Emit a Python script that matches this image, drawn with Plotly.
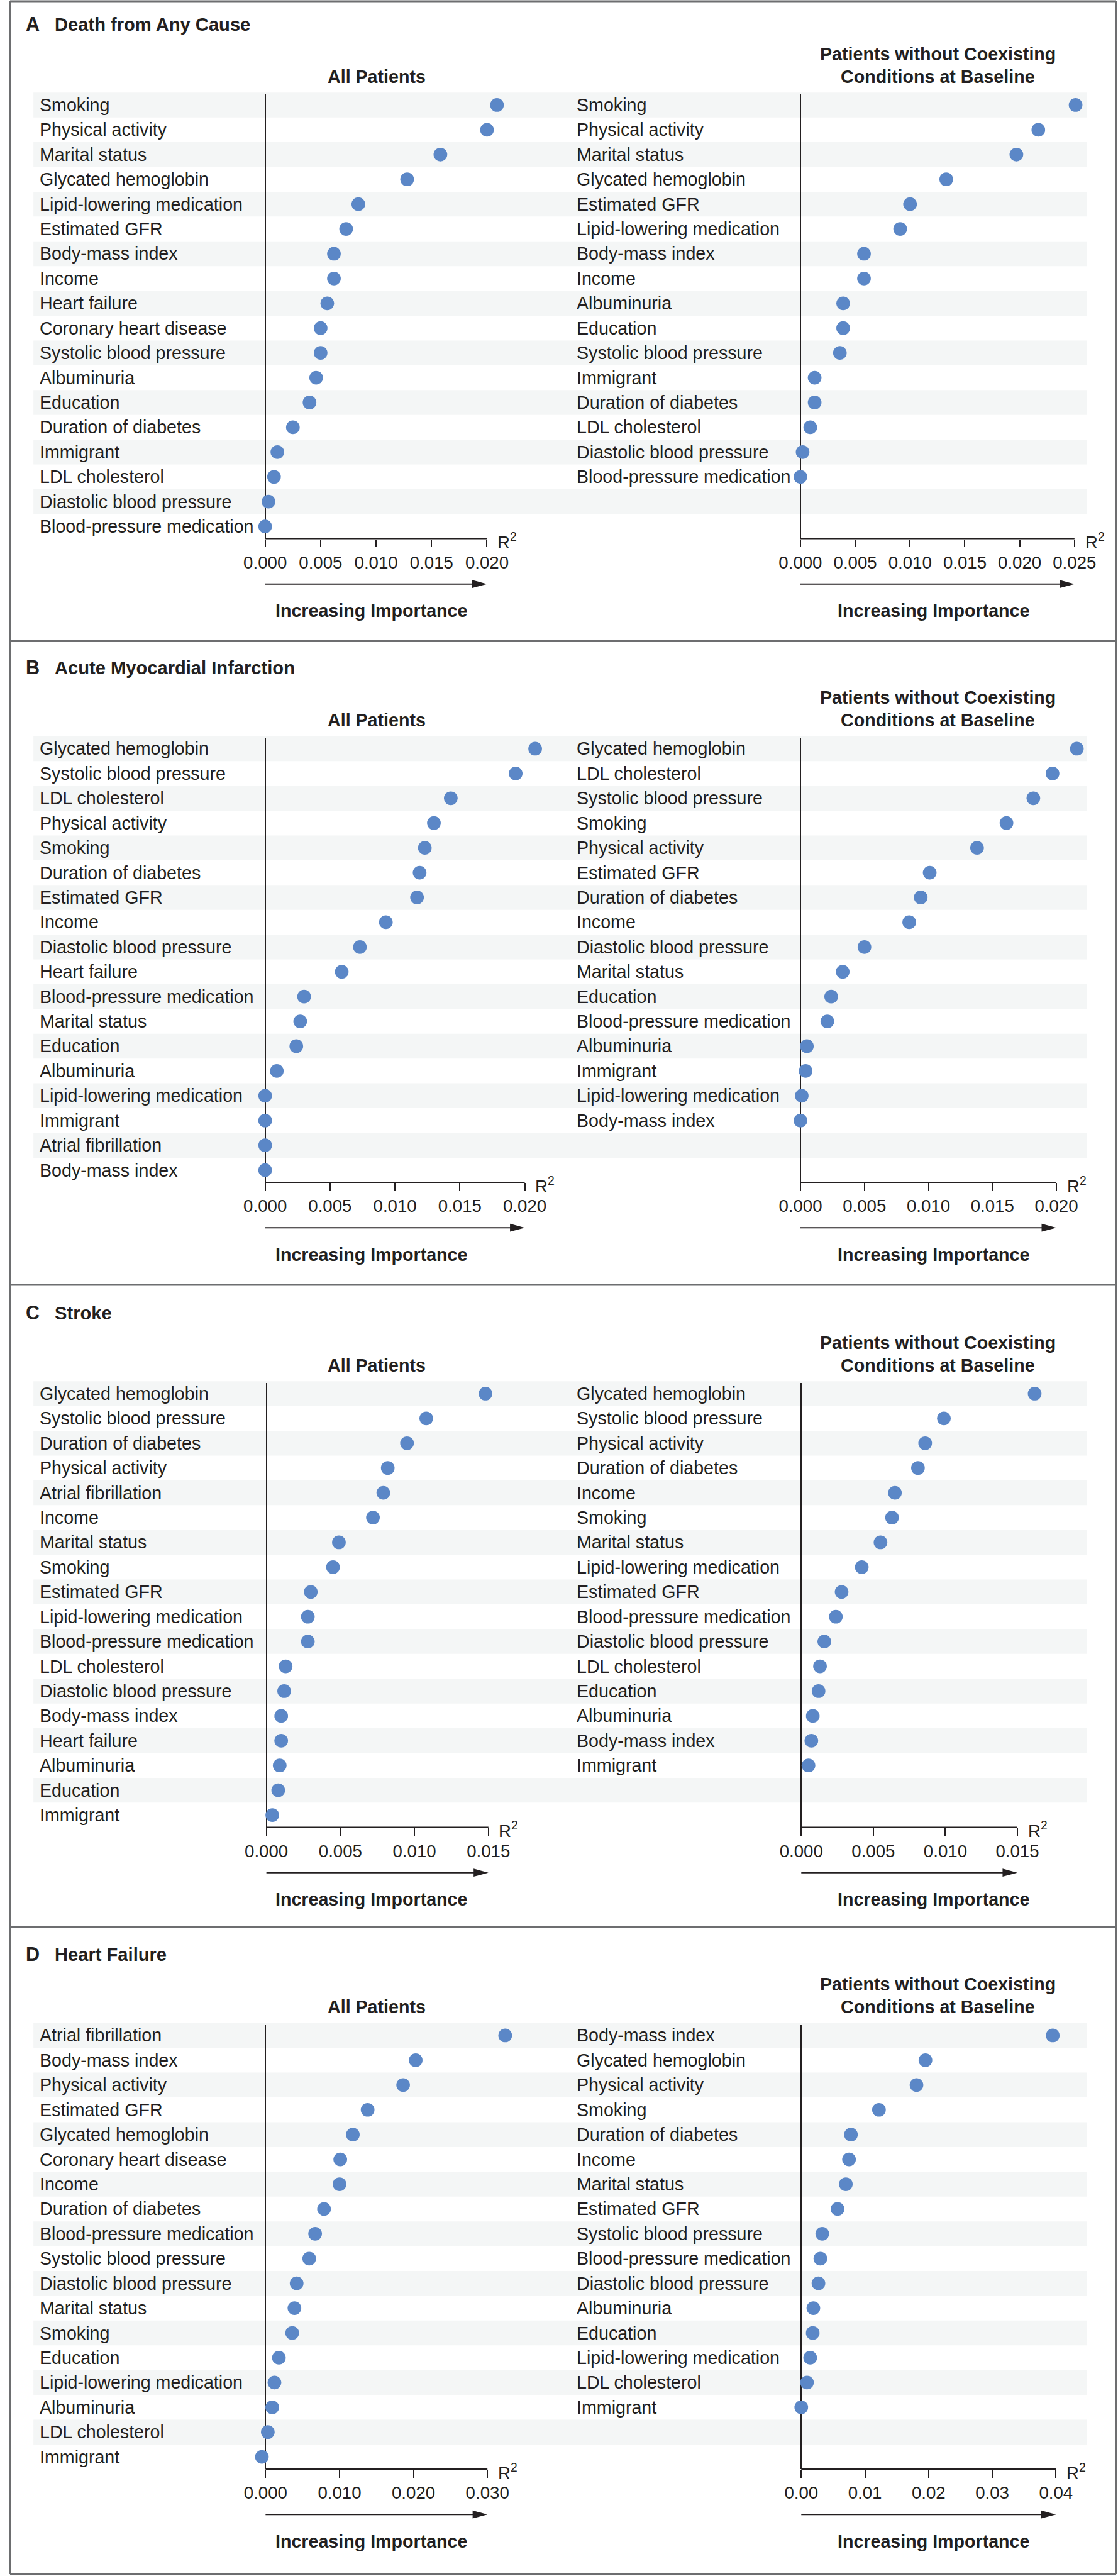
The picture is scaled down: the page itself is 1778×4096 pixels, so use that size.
import plotly.graph_objects as go

# ---------------------------------------------------------------- data
panel_letters = ["A", "B", "C", "D"]
panel_titles = ["Death from Any Cause", "Acute Myocardial Infarction", "Stroke", "Heart Failure"]
all_title = "All Patients"
sub_title_lines = ["Patients without Coexisting", "Conditions at Baseline"]
x_axis_label = "Increasing Importance"

death_all_labels = ["Smoking", "Physical activity", "Marital status", "Glycated hemoglobin",
                    "Lipid-lowering medication", "Estimated GFR", "Body-mass index", "Income",
                    "Heart failure", "Coronary heart disease", "Systolic blood pressure",
                    "Albuminuria", "Education", "Duration of diabetes", "Immigrant",
                    "LDL cholesterol", "Diastolic blood pressure", "Blood-pressure medication"]
death_all_r2 = [0.0209, 0.0200, 0.0158, 0.0128, 0.0084, 0.0073, 0.0062, 0.0062, 0.0056,
                0.0050, 0.0050, 0.0046, 0.0040, 0.0025, 0.0011, 0.0008, 0.0003, 0.0000]
death_sub_labels = ["Smoking", "Physical activity", "Marital status", "Glycated hemoglobin",
                    "Estimated GFR", "Lipid-lowering medication", "Body-mass index", "Income",
                    "Albuminuria", "Education", "Systolic blood pressure", "Immigrant",
                    "Duration of diabetes", "LDL cholesterol", "Diastolic blood pressure",
                    "Blood-pressure medication"]
death_sub_r2 = [0.0251, 0.0217, 0.0197, 0.0133, 0.0100, 0.0091, 0.0058, 0.0058, 0.0039,
                0.0039, 0.0036, 0.0013, 0.0013, 0.0009, 0.0002, 0.0000]

ami_all_labels = ["Glycated hemoglobin", "Systolic blood pressure", "LDL cholesterol",
                  "Physical activity", "Smoking", "Duration of diabetes", "Estimated GFR", "Income",
                  "Diastolic blood pressure", "Heart failure", "Blood-pressure medication",
                  "Marital status", "Education", "Albuminuria", "Lipid-lowering medication",
                  "Immigrant", "Atrial fibrillation", "Body-mass index"]
ami_all_r2 = [0.0208, 0.0193, 0.0143, 0.0130, 0.0123, 0.0119, 0.0117, 0.0093, 0.0073,
              0.0059, 0.0030, 0.0027, 0.0024, 0.0009, 0.0000, 0.0000, 0.0000, 0.0000]
ami_sub_labels = ["Glycated hemoglobin", "LDL cholesterol", "Systolic blood pressure", "Smoking",
                  "Physical activity", "Estimated GFR", "Duration of diabetes", "Income",
                  "Diastolic blood pressure", "Marital status", "Education",
                  "Blood-pressure medication", "Albuminuria", "Immigrant",
                  "Lipid-lowering medication", "Body-mass index"]
ami_sub_r2 = [0.0216, 0.0197, 0.0182, 0.0161, 0.0138, 0.0101, 0.0094, 0.0085, 0.0050,
              0.0033, 0.0024, 0.0021, 0.0005, 0.0004, 0.0001, 0.0000]

stroke_all_labels = ["Glycated hemoglobin", "Systolic blood pressure", "Duration of diabetes",
                     "Physical activity", "Atrial fibrillation", "Income", "Marital status",
                     "Smoking", "Estimated GFR", "Lipid-lowering medication",
                     "Blood-pressure medication", "LDL cholesterol", "Diastolic blood pressure",
                     "Body-mass index", "Heart failure", "Albuminuria", "Education", "Immigrant"]
stroke_all_r2 = [0.0148, 0.0108, 0.0095, 0.0082, 0.0079, 0.0072, 0.0049, 0.0045, 0.0030,
                 0.0028, 0.0028, 0.0013, 0.0012, 0.0010, 0.0010, 0.0009, 0.0008, 0.0004]
stroke_sub_labels = ["Glycated hemoglobin", "Systolic blood pressure", "Physical activity",
                     "Duration of diabetes", "Income", "Smoking", "Marital status",
                     "Lipid-lowering medication", "Estimated GFR", "Blood-pressure medication",
                     "Diastolic blood pressure", "LDL cholesterol", "Education", "Albuminuria",
                     "Body-mass index", "Immigrant"]
stroke_sub_r2 = [0.0162, 0.0099, 0.0086, 0.0081, 0.0065, 0.0063, 0.0055, 0.0042, 0.0028,
                 0.0024, 0.0016, 0.0013, 0.0012, 0.0008, 0.0007, 0.0005]

hf_all_labels = ["Atrial fibrillation", "Body-mass index", "Physical activity", "Estimated GFR",
                 "Glycated hemoglobin", "Coronary heart disease", "Income", "Duration of diabetes",
                 "Blood-pressure medication", "Systolic blood pressure", "Diastolic blood pressure",
                 "Marital status", "Smoking", "Education", "Lipid-lowering medication",
                 "Albuminuria", "LDL cholesterol", "Immigrant"]
hf_all_r2 = [0.0324, 0.0203, 0.0186, 0.0138, 0.0118, 0.0101, 0.0100, 0.0079, 0.0067,
             0.0059, 0.0042, 0.0039, 0.0036, 0.0018, 0.0012, 0.0009, 0.0003, -0.0005]
hf_sub_labels = ["Body-mass index", "Glycated hemoglobin", "Physical activity", "Smoking",
                 "Duration of diabetes", "Income", "Marital status", "Estimated GFR",
                 "Systolic blood pressure", "Blood-pressure medication", "Diastolic blood pressure",
                 "Albuminuria", "Education", "Lipid-lowering medication", "LDL cholesterol",
                 "Immigrant"]
hf_sub_r2 = [0.0395, 0.0195, 0.0181, 0.0122, 0.0078, 0.0075, 0.0070, 0.0057, 0.0033,
             0.0030, 0.0027, 0.0019, 0.0018, 0.0014, 0.0009, 0.0000]

death_all_ticks = [0.0, 0.005, 0.010, 0.015, 0.020]
death_sub_ticks = [0.0, 0.005, 0.010, 0.015, 0.020, 0.025]
ami_all_ticks = [0.0, 0.005, 0.010, 0.015, 0.020]
ami_sub_ticks = [0.0, 0.005, 0.010, 0.015, 0.020]
stroke_all_ticks = [0.0, 0.005, 0.010, 0.015]
stroke_sub_ticks = [0.0, 0.005, 0.010, 0.015]
hf_all_ticks = [0.0, 0.010, 0.020, 0.030]
hf_sub_ticks = [0.0, 0.01, 0.02, 0.03, 0.04]

death_all_ticktext = ["0.000", "0.005", "0.010", "0.015", "0.020"]
death_sub_ticktext = ["0.000", "0.005", "0.010", "0.015", "0.020", "0.025"]
ami_all_ticktext = ["0.000", "0.005", "0.010", "0.015", "0.020"]
ami_sub_ticktext = ["0.000", "0.005", "0.010", "0.015", "0.020"]
stroke_all_ticktext = ["0.000", "0.005", "0.010", "0.015"]
stroke_sub_ticktext = ["0.000", "0.005", "0.010", "0.015"]
hf_all_ticktext = ["0.000", "0.010", "0.020", "0.030"]
hf_sub_ticktext = ["0.00", "0.01", "0.02", "0.03", "0.04"]

# ---------------------------------------------------------------- style / geometry
W, H = 1778, 4096
RW, RH = 1800, 4146          # reference pixel space
S = W / RW

FONT = "Liberation Sans, Arial, Helvetica, sans-serif"
TXT = "#231f20"
DOT = "#5b87c7"
BAND = "#f4f6f6"
BORDER = "#6d6e70"

ROW1 = [169, 1205, 2243, 3276]       # y of first row in each panel
STEP = 39.9                          # row spacing
AXIS_BELOW = 698                     # x-axis line below first row
LINE_ABOVE = 17                      # top of vertical axis above first row
AX_X0 = [[416, 1284.6], [416, 1284.7], [418, 1286], [416.7, 1286]]
AX_X1 = [[776, 1729.4], [837.3, 1700], [778.3, 1636.7], [776.7, 1699.3]]
PAD_LO, PAD_HI = 0.06, 0.12          # extra room so dots past the axis ends stay visible
LABEL_X = [48, 919]
BAND_X = (40, 1750)
BORDER_Y = [2, 1032, 2068, 3101, 4143]
BORDER_X = (2, 1797)
INC_X = [588, 1500]
ALL_X = 597
SUB_X = 1508


def px(x):
    return x / RW


def py(y):
    return 1 - y / RH


def f(sz):
    return sz * S


panels = [
    (death_all_labels, death_all_r2, death_all_ticks, death_all_ticktext,
     death_sub_labels, death_sub_r2, death_sub_ticks, death_sub_ticktext),
    (ami_all_labels, ami_all_r2, ami_all_ticks, ami_all_ticktext,
     ami_sub_labels, ami_sub_r2, ami_sub_ticks, ami_sub_ticktext),
    (stroke_all_labels, stroke_all_r2, stroke_all_ticks, stroke_all_ticktext,
     stroke_sub_labels, stroke_sub_r2, stroke_sub_ticks, stroke_sub_ticktext),
    (hf_all_labels, hf_all_r2, hf_all_ticks, hf_all_ticktext,
     hf_sub_labels, hf_sub_r2, hf_sub_ticks, hf_sub_ticktext),
]

fig = go.Figure()
layout = {}
annotations = []
shapes = []

for p, pdata in enumerate(panels):
    r1 = ROW1[p]
    axis_y = r1 + AXIS_BELOW
    top_y = r1 - LINE_ABOVE

    # row bands (shared across both columns)
    for i in range(1, 19, 2):
        yc = r1 + (i - 1) * STEP
        shapes.append(dict(type="rect", xref="paper", yref="paper",
                           x0=px(BAND_X[0]), x1=px(BAND_X[1]),
                           y0=py(yc + STEP / 2), y1=py(yc - STEP / 2),
                           fillcolor=BAND, line=dict(width=0), layer="below"))

    # panel title
    annotations.append(dict(text="<b>%s</b>" % panel_letters[p], xref="paper", yref="paper",
                            x=px(26), y=py(r1 - 131), xanchor="left", yanchor="middle",
                            showarrow=False, font=dict(size=f(31), color=TXT, family=FONT)))
    annotations.append(dict(text="<b>%s</b>" % panel_titles[p], xref="paper", yref="paper",
                            x=px(72), y=py(r1 - 130), xanchor="left", yanchor="middle",
                            showarrow=False, font=dict(size=f(29.5), color=TXT, family=FONT)))
    # column titles
    annotations.append(dict(text="<b>%s</b>" % all_title, xref="paper", yref="paper",
                            x=px(ALL_X), y=py(r1 - 46), xanchor="center", yanchor="middle",
                            showarrow=False, font=dict(size=f(29), color=TXT, family=FONT)))
    for j, line in enumerate(sub_title_lines):
        annotations.append(dict(text="<b>%s</b>" % line, xref="paper", yref="paper",
                                x=px(SUB_X), y=py(r1 - 82 + 36 * j), xanchor="center",
                                yanchor="middle", showarrow=False,
                                font=dict(size=f(29), color=TXT, family=FONT)))

    for c in range(2):
        labels, vals, ticks, ticktext = pdata[4 * c: 4 * c + 4]
        k = 2 * p + c + 1
        xn = "x" if k == 1 else "x%d" % k
        yn = "y" if k == 1 else "y%d" % k
        xk = "xaxis" if k == 1 else "xaxis%d" % k
        yk = "yaxis" if k == 1 else "yaxis%d" % k
        x0, x1 = AX_X0[p][c], AX_X1[p][c]
        tmax = ticks[-1]
        ppu = (x1 - x0) / tmax                    # reference px per R2 unit
        lo, hi = -PAD_LO * tmax, (1 + PAD_HI) * tmax
        d0, d1 = x0 + lo * ppu, x0 + hi * ppu

        layout[xk] = dict(domain=[px(d0), px(d1)], range=[lo, hi], anchor=yn,
                          tickmode="array", tickvals=ticks, ticktext=ticktext,
                          ticks="outside", ticklen=f(13), tickwidth=f(2), tickcolor=TXT,
                          showline=False, showgrid=False,
                          zeroline=True, zerolinecolor=TXT, zerolinewidth=f(2),
                          fixedrange=True,
                          tickfont=dict(size=f(28), color=TXT, family=FONT))
        layout[yk] = dict(domain=[py(axis_y), py(top_y)],
                          range=[1 + AXIS_BELOW / STEP, 1 - LINE_ABOVE / STEP],
                          anchor=xn, showline=False,
                          showticklabels=False, ticks="", showgrid=False, zeroline=False,
                          fixedrange=True)

        # horizontal axis line from 0 to the last tick
        shapes.append(dict(type="line", xref=xn, yref="paper",
                           x0=0, x1=tmax, y0=py(axis_y), y1=py(axis_y),
                           line=dict(color=TXT, width=f(2))))

        rows = list(range(1, len(labels) + 1))
        fig.add_trace(go.Scatter(x=vals, y=rows, xaxis=xn, yaxis=yn, mode="markers",
                                 marker=dict(size=f(22), color=DOT, line=dict(width=0)),
                                 cliponaxis=False, showlegend=False, hoverinfo="skip"))

        for i, lab in zip(rows, labels):
            annotations.append(dict(text=lab, xref="paper", yref=yn, x=px(LABEL_X[c]), y=i,
                                    xanchor="left", yanchor="middle", showarrow=False,
                                    font=dict(size=f(29), color=TXT, family=FONT)))

        # R^2 label at end of axis
        annotations.append(dict(text="R<sup>2</sup>", xref="paper", yref="paper",
                                x=px(x1 + 15), y=py(axis_y + 4), xanchor="left",
                                yanchor="middle", showarrow=False,
                                font=dict(size=f(28), color=TXT, family=FONT)))

        # arrow
        ya = axis_y + 73
        shapes.append(dict(type="line", xref="paper", yref="paper",
                           x0=px(x0), x1=px(x1 - 20), y0=py(ya), y1=py(ya),
                           line=dict(color=TXT, width=f(2))))
        shapes.append(dict(type="path", xref="paper", yref="paper",
                           path="M %f,%f L %f,%f L %f,%f Z" % (px(x1 - 24), py(ya - 6.5),
                                                             px(x1), py(ya),
                                                             px(x1 - 24), py(ya + 6.5)),
                           fillcolor=TXT, line=dict(width=0)))
        annotations.append(dict(text="<b>%s</b>" % x_axis_label, xref="paper", yref="paper",
                                x=px(INC_X[c]), y=py(axis_y + 116), xanchor="center",
                                yanchor="middle", showarrow=False,
                                font=dict(size=f(29), color=TXT, family=FONT)))

# panel borders
for yb in BORDER_Y:
    shapes.append(dict(type="line", xref="paper", yref="paper",
                       x0=px(BORDER_X[0]), x1=px(BORDER_X[1]), y0=py(yb), y1=py(yb),
                       line=dict(color=BORDER, width=f(3))))
for xb in BORDER_X:
    shapes.append(dict(type="line", xref="paper", yref="paper",
                       x0=px(xb), x1=px(xb), y0=py(BORDER_Y[0]), y1=py(BORDER_Y[-1]),
                       line=dict(color=BORDER, width=f(3))))

fig.update_layout(width=W, height=H, autosize=False,
                  margin=dict(l=0, r=0, t=0, b=0, pad=0),
                  paper_bgcolor="white", plot_bgcolor="rgba(0,0,0,0)",
                  font=dict(family=FONT, color=TXT),
                  annotations=annotations, shapes=shapes, showlegend=False,
                  **layout)

fig.write_html("out.html", config={"displayModeBar": False})
